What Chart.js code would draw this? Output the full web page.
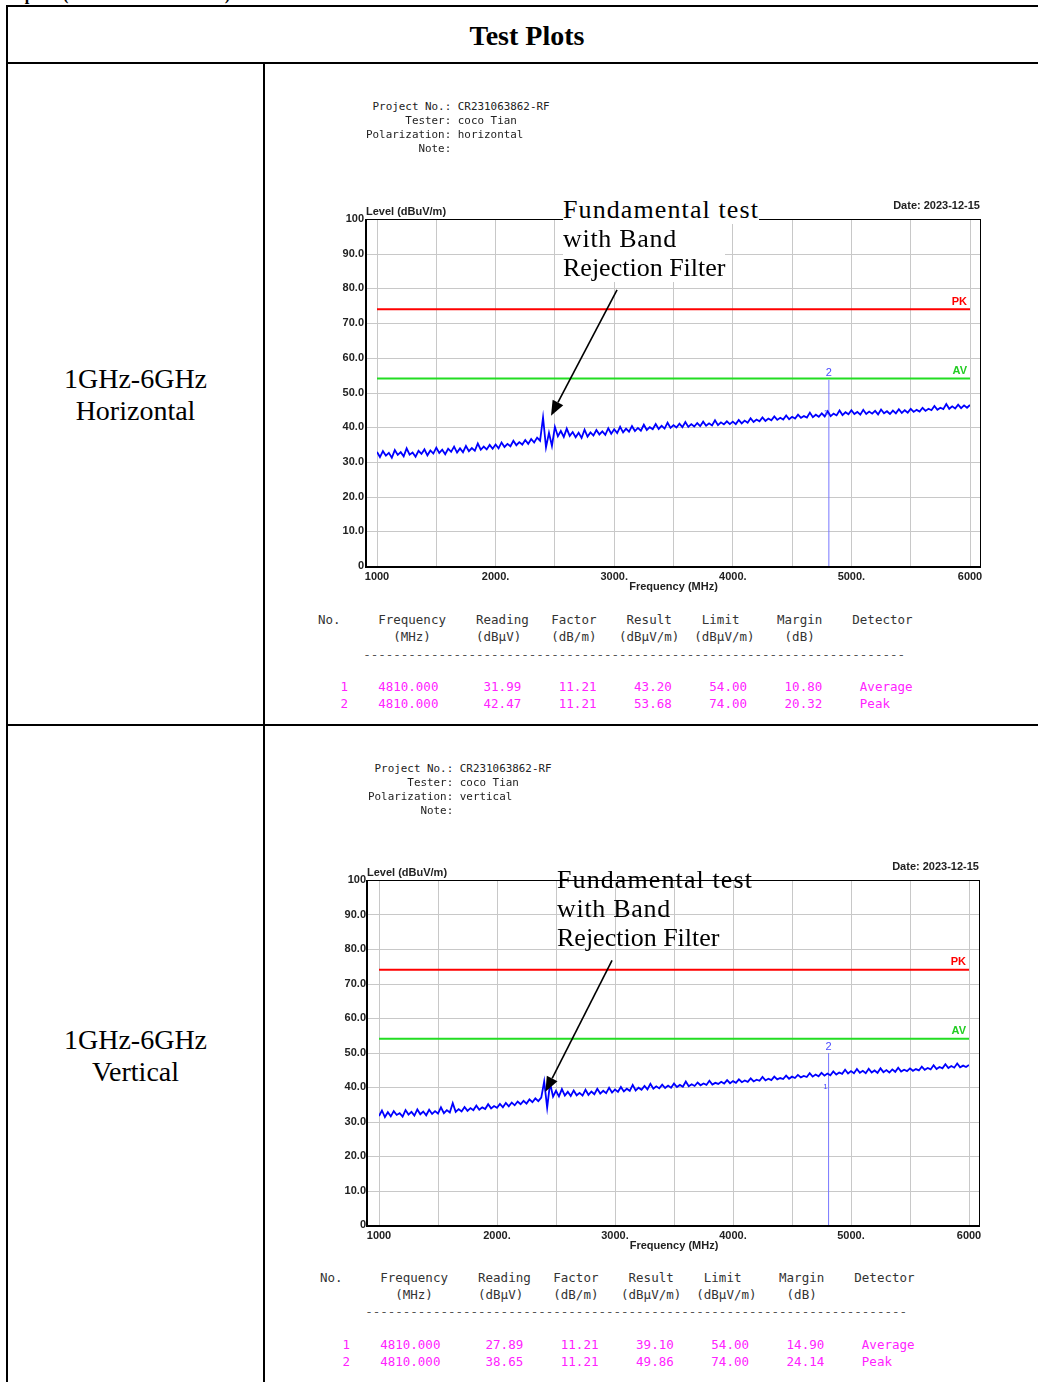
<!DOCTYPE html>
<html>
<head>
<meta charset="utf-8">
<script src="https://cdn.jsdelivr.net/npm/chart.js@4.4.0/dist/chart.umd.min.js"></script>
<style>
  body { margin: 0; width: 1038px; height: 1382px; overflow: hidden; position: relative; background: #fff; }
  .rule { position: absolute; background: #000; }
  .serif { position: absolute; font-family: "Liberation Serif", "Times New Roman", serif; color: #000; white-space: nowrap; }
  .mono { position: absolute; font-family: "DejaVu Sans Mono", monospace; white-space: pre; }
  .lbl { position: absolute; font-family: "Liberation Sans", Arial, sans-serif; font-weight: bold; font-size: 11px; line-height: 12px; color: #222; white-space: nowrap; }
  canvas { position: absolute; }
</style>
</head>
<body>
<div class="serif" style="left:-8px;top:-13px;font-size:16.5px;font-weight:bold;line-height:16px;">Test plots (Worst case was shown)</div>
<div class="rule" style="left:6px;top:5px;width:1040px;height:2px;"></div>
<div class="rule" style="left:6px;top:5px;width:2px;height:1400px;"></div>
<div class="rule" style="left:6px;top:62px;width:1040px;height:2px;"></div>
<div class="rule" style="left:263px;top:63px;width:2px;height:1400px;"></div>
<div class="rule" style="left:6px;top:724px;width:1040px;height:2px;"></div>
<div class="serif" style="left:7px;width:1040px;top:20px;text-align:center;font-size:28px;font-weight:bold;line-height:32px;">Test Plots</div>
<div class="serif" style="left:7px;width:257px;top:363px;text-align:center;font-size:28px;line-height:32px;">1GHz-6GHz<br>Horizontal</div>
<div class="serif" style="left:7px;width:257px;top:1024px;text-align:center;font-size:28px;line-height:32px;">1GHz-6GHz<br>Vertical</div>

<canvas id="chart-h" width="700" height="410" style="left:300px;top:195px;"></canvas>
<canvas id="chart-v" width="700" height="410" style="left:300px;top:855px;"></canvas>

<script>
// frequency points of the scan (MHz)
const FREQ_MHZ = [
  1000, 1025, 1050, 1075, 1100, 1125, 1150, 1175, 1200, 1225,
  1250, 1275, 1300, 1325, 1350, 1375, 1400, 1425, 1450, 1475,
  1500, 1525, 1550, 1575, 1600, 1625, 1650, 1675, 1700, 1725,
  1750, 1775, 1800, 1825, 1850, 1875, 1900, 1925, 1950, 1975,
  2000, 2025, 2050, 2075, 2100, 2125, 2150, 2175, 2200, 2225,
  2250, 2275, 2300, 2325, 2350, 2375, 2400, 2425, 2450, 2475,
  2500, 2525, 2550, 2575, 2600, 2625, 2650, 2675, 2700, 2725,
  2750, 2775, 2800, 2825, 2850, 2875, 2900, 2925, 2950, 2975,
  3000, 3025, 3050, 3075, 3100, 3125, 3150, 3175, 3200, 3225,
  3250, 3275, 3300, 3325, 3350, 3375, 3400, 3425, 3450, 3475,
  3500, 3525, 3550, 3575, 3600, 3625, 3650, 3675, 3700, 3725,
  3750, 3775, 3800, 3825, 3850, 3875, 3900, 3925, 3950, 3975,
  4000, 4025, 4050, 4075, 4100, 4125, 4150, 4175, 4200, 4225,
  4250, 4275, 4300, 4325, 4350, 4375, 4400, 4425, 4450, 4475,
  4500, 4525, 4550, 4575, 4600, 4625, 4650, 4675, 4700, 4725,
  4750, 4775, 4800, 4825, 4850, 4875, 4900, 4925, 4950, 4975,
  5000, 5025, 5050, 5075, 5100, 5125, 5150, 5175, 5200, 5225,
  5250, 5275, 5300, 5325, 5350, 5375, 5400, 5425, 5450, 5475,
  5500, 5525, 5550, 5575, 5600, 5625, 5650, 5675, 5700, 5725,
  5750, 5775, 5800, 5825, 5850, 5875, 5900, 5925, 5950, 5975,
  6000
];

// horizontal polarization trace (dBuV/m)
const H_LEVEL = [
  32.9, 31.4, 33.1, 31.8, 32.6, 31.2, 33.4, 32.0, 32.8, 31.6,
  33.9, 32.1, 32.7, 31.5, 33.2, 32.3, 33.6, 31.9, 33.3, 32.4,
  34.1, 32.6, 33.5, 32.2, 33.8, 32.9, 34.4, 32.7, 33.9, 32.8,
  34.6, 33.1, 34.0, 33.2, 35.3, 33.5, 34.4, 33.6, 34.9, 33.8,
  35.0, 33.9, 35.6, 34.3, 35.2, 34.5, 36.1, 34.8, 35.7, 35.0,
  36.3, 35.2, 36.6, 35.6, 37.0, 36.1, 42.8, 34.2, 38.4, 34.6,
  40.1, 37.4, 38.9, 37.2, 39.6, 37.5, 38.6, 37.1, 38.4, 36.9,
  39.3, 37.3, 38.5, 37.6, 39.2, 37.9, 38.8, 37.8, 39.7, 38.1,
  39.4, 38.3, 40.1, 38.5, 39.6, 38.7, 40.3, 38.9, 39.8, 39.0,
  40.7, 39.2, 40.0, 39.4, 40.9, 39.5, 40.4, 39.6, 41.3, 39.8,
  40.6, 39.9, 41.0, 40.0, 41.5, 40.1, 40.9, 40.2, 41.2, 40.3,
  41.6, 40.4, 41.1, 40.5, 42.0, 40.6, 41.4, 40.8, 41.7, 40.9,
  41.6, 40.9, 42.1, 41.1, 41.9, 41.3, 42.6, 41.5, 42.2, 41.7,
  42.8, 41.8, 42.5, 42.0, 43.1, 42.1, 42.7, 42.2, 43.4, 42.3,
  43.0, 42.5, 43.6, 42.7, 43.2, 42.8, 44.2, 42.9, 43.6, 43.0,
  44.0, 43.1, 44.6, 43.2, 43.9, 43.4, 44.8, 43.5, 44.3, 43.7,
  44.9, 43.8, 44.4, 43.6, 45.0, 43.8, 44.5, 43.9, 44.7, 43.7,
  45.1, 44.0, 44.6, 43.8, 44.8, 44.0, 45.2, 44.1, 44.9, 44.2,
  45.3, 44.4, 45.0, 44.5, 45.6, 44.7, 45.3, 44.9, 46.1, 45.0,
  45.6, 45.2, 46.7, 45.3, 46.0, 45.4, 46.5, 45.5, 46.3, 45.6,
  46.4
];

// vertical polarization trace (dBuV/m)
const V_LEVEL = [
  31.6, 33.2, 31.3, 32.7, 31.5, 33.0, 31.9, 32.4, 31.4, 33.3,
  32.0, 32.8, 31.7, 33.5, 32.1, 32.9, 31.8, 33.4, 32.2, 33.0,
  32.3, 34.1, 32.4, 33.3, 32.6, 35.3, 32.8, 33.6, 32.9, 34.2,
  33.1, 33.9, 33.3, 34.6, 33.4, 34.1, 33.6, 35.0, 33.8, 34.5,
  34.0, 35.1, 34.1, 35.4, 34.4, 35.5, 34.7, 35.8, 35.0, 36.0,
  35.2, 36.4, 35.6, 36.7, 35.9, 36.9, 41.6, 34.0, 41.1, 37.2,
  38.9, 37.3, 39.4, 37.5, 38.6, 37.4, 39.0, 37.6, 38.3, 37.5,
  39.2, 37.7, 38.7, 37.9, 39.5, 38.1, 38.9, 38.2, 39.8, 38.4,
  39.3, 38.6, 40.0, 38.7, 39.5, 38.9, 40.6, 39.0, 39.8, 39.2,
  40.3, 39.3, 40.9, 39.5, 40.2, 39.6, 40.7, 39.7, 40.4, 39.8,
  41.0, 40.0, 40.6, 40.1, 41.6, 40.2, 40.8, 40.3, 41.3, 40.5,
  41.0, 40.6, 41.8, 40.7, 41.2, 40.9, 41.5, 41.0, 42.0, 41.1,
  41.7, 41.2, 42.2, 41.4, 41.9, 41.5, 42.5, 41.6, 42.1, 41.8,
  42.9, 41.9, 42.4, 42.0, 43.0, 42.2, 42.6, 42.3, 43.3, 42.4,
  43.0, 42.6, 43.5, 42.8, 43.2, 42.9, 44.0, 43.0, 43.6, 43.1,
  44.1, 43.3, 43.9, 43.4, 44.5, 43.6, 44.2, 43.8, 45.0, 43.9,
  44.6, 44.0, 45.2, 44.1, 44.7, 44.0, 45.3, 44.2, 44.8, 44.1,
  45.4, 44.3, 44.9, 44.2, 45.1, 44.4, 45.6, 44.5, 45.0, 44.6,
  45.4, 44.7, 45.2, 44.8, 45.9, 45.0, 45.5, 45.1, 46.3, 45.2,
  45.8, 45.4, 46.6, 45.5, 46.1, 45.6, 46.8, 45.7, 46.2, 45.8,
  46.4
];

const X_TICKS = [1000, 2000, 3000, 4000, 5000, 6000];
const X_TICK_TEXT = ["1000", "2000.", "3000.", "4000.", "5000.", "6000"];
const Y_TICKS = [0, 10, 20, 30, 40, 50, 60, 70, 80, 90, 100];
const Y_TICK_TEXT = ["0", "10.0", "20.0", "30.0", "40.0", "50.0", "60.0", "70.0", "80.0", "90.0", "100"];

const PK_LIMIT = 74;
const AV_LIMIT = 54;
const MARKER_FREQ = 4810;

// marker table
const ROW_NO = [1, 2];
const ROW_FREQ = [4810.0, 4810.0];
const FACTOR = [11.21, 11.21];
const LIMIT = [54.0, 74.0];
const DETECTOR = ["Average", "Peak"];
const H_READING = [31.99, 42.47];
const H_RESULT = [43.2, 53.68];
const H_MARGIN = [10.8, 20.32];
const V_READING = [27.89, 38.65];
const V_RESULT = [39.1, 49.86];
const V_MARGIN = [14.9, 24.14];

const PROJECT = "CR231063862-RF";
const TESTER = "coco Tian";
const TEST_DATE = "2023-12-15";
const NOTE_LINES = ["Fundamental test", "with Band", "Rejection Filter"];

const TICK_FONT = { family: "'Liberation Sans', Arial, sans-serif", size: 11, weight: "bold" };

const markPlugin = {
  id: "marks",
  beforeDatasetsDraw(chart, args, o) {
    const { ctx, chartArea: a, scales: { y } } = chart;
    ctx.save();
    ctx.strokeStyle = "#c8c8c8";
    ctx.lineWidth = 1;
    Y_TICKS.slice(1, -1).forEach((v) => {
      const py = Math.round(y.getPixelForValue(v)) + 0.5;
      ctx.beginPath();
      ctx.moveTo(a.left - o.frameL, py);
      ctx.lineTo(a.right + o.frameR, py);
      ctx.stroke();
    });
    ctx.restore();
  },
  afterDatasetsDraw(chart, args, o) {
    const { ctx, chartArea: a, scales: { x, y } } = chart;
    ctx.save();
    ctx.font = "bold 11px 'Liberation Sans', Arial, sans-serif";
    ctx.textAlign = "right";
    ctx.textBaseline = "bottom";
    ctx.fillStyle = "#ff0000";
    ctx.fillText("PK", a.right - 3, y.getPixelForValue(PK_LIMIT) - 2);
    ctx.fillStyle = "#22cc22";
    ctx.fillText("AV", a.right - 3, y.getPixelForValue(AV_LIMIT) - 2);

    // marker numbers
    const mx = x.getPixelForValue(MARKER_FREQ);
    ctx.font = "11px 'Liberation Sans', Arial, sans-serif";
    ctx.textAlign = "center";
    ctx.fillStyle = "#4a4aff";
    ctx.fillText("2", mx, y.getPixelForValue(o.results[1]) - 1);
    ctx.font = "8px 'Liberation Sans', Arial, sans-serif";
    ctx.fillText("1", mx - 3, y.getPixelForValue(o.results[0]) + 1);

    // arrow of the note
    const [tail, tip] = o.arrow;
    const x0 = x.getPixelForValue(tail[0]), y0 = y.getPixelForValue(tail[1]);
    const x1 = x.getPixelForValue(tip[0]), y1 = y.getPixelForValue(tip[1]);
    const ang = Math.atan2(y1 - y0, x1 - x0);
    const len = 15, half = 6;
    const bx = x1 - len * Math.cos(ang), by = y1 - len * Math.sin(ang);
    ctx.strokeStyle = "#000";
    ctx.fillStyle = "#000";
    ctx.lineWidth = 1.6;
    ctx.beginPath();
    ctx.moveTo(x0, y0);
    ctx.lineTo(bx, by);
    ctx.stroke();
    ctx.beginPath();
    ctx.moveTo(x1, y1);
    ctx.lineTo(bx + half * Math.sin(ang), by - half * Math.cos(ang));
    ctx.lineTo(bx - half * Math.sin(ang), by + half * Math.cos(ang));
    ctx.closePath();
    ctx.fill();
    ctx.restore();
  },
  afterDraw(chart, args, o) {
    const { ctx, chartArea: a } = chart;
    const l = a.left - o.frameL, r = a.right + o.frameR;
    ctx.save();
    ctx.fillStyle = "#000";
    ctx.fillRect(l, a.top, r - l, 1);
    ctx.fillRect(r, a.top, 1, a.bottom - a.top + 1);
    ctx.fillRect(l - 1, a.top, 2, a.bottom - a.top + 2);
    ctx.fillRect(l - 1, a.bottom, r - l + 2, 2);
    ctx.font = "bold 11px 'Liberation Sans', Arial, sans-serif";
    ctx.fillStyle = "#222";
    ctx.textAlign = "center";
    ctx.textBaseline = "middle";
    ctx.fillText("Frequency (MHz)", (a.left + a.right) / 2, a.bottom + 21);
    ctx.restore();
  },
};

function makeScan(cfg) {
  const canvas = document.getElementById(cfg.canvas);
  const cLeft = parseFloat(canvas.style.left), cTop = parseFloat(canvas.style.top);
  const padTop = cfg.areaTop - cTop;
  const padRight = cLeft + canvas.width - cfg.areaRight;
  const yWidth = cfg.areaLeft - cLeft;
  const xHeight = canvas.height - (cfg.areaBottom - cTop);

  return new Chart(canvas, {
    type: "line",
    data: {
      datasets: [
        {
          data: FREQ_MHZ.map((f, i) => ({ x: f, y: cfg.level[i] })),
          borderColor: "#0000ff",
          borderWidth: 1.8,
          pointRadius: 0,
          tension: 0,
        },
        {
          data: [{ x: MARKER_FREQ, y: 0 }, { x: MARKER_FREQ, y: cfg.results[1] }],
          borderColor: "#7878ff",
          borderWidth: 1,
          pointRadius: 0,
        },
        {
          data: [{ x: 1000, y: PK_LIMIT }, { x: 6000, y: PK_LIMIT }],
          borderColor: "#ff0000",
          borderWidth: 2,
          pointRadius: 0,
        },
        {
          data: [{ x: 1000, y: AV_LIMIT }, { x: 6000, y: AV_LIMIT }],
          borderColor: "#22dd22",
          borderWidth: 2,
          pointRadius: 0,
        },
      ],
    },
    options: {
      responsive: false,
      animation: false,
      devicePixelRatio: 1,
      layout: { padding: { top: padTop, right: padRight, left: 0, bottom: 0 } },
      plugins: {
        legend: { display: false },
        tooltip: { enabled: false },
        marks: { frameL: cfg.frameL, frameR: cfg.frameR, results: cfg.results, arrow: cfg.arrow },
      },
      scales: {
        x: {
          type: "linear",
          min: 1000,
          max: 6000,
          afterFit: (s) => { s.height = xHeight; },
          border: { display: false },
          grid: { color: "#c8c8c8", lineWidth: 1, drawTicks: false },
          ticks: {
            stepSize: 500,
            autoSkip: false,
            maxRotation: 0,
            padding: 4,
            color: "#222",
            font: TICK_FONT,
            callback: (v) => {
              const i = X_TICKS.indexOf(v);
              return i >= 0 ? X_TICK_TEXT[i] : "";
            },
          },
        },
        y: {
          min: 0,
          max: 100,
          afterFit: (s) => { s.width = yWidth; },
          border: { display: false },
          grid: { display: false },
          ticks: {
            stepSize: 10,
            padding: 5,
            color: "#222",
            font: TICK_FONT,
            callback: (v) => Y_TICK_TEXT[Y_TICKS.indexOf(v)],
          },
        },
      },
    },
    plugins: [markPlugin],
  });
}

function placeCols(parts) {
  let s = "";
  parts.forEach(([c, t]) => {
    s = s.padEnd(c, " ") + t;
  });
  return s;
}

function addText(cls, left, top, text, style) {
  const d = document.createElement("div");
  d.className = cls;
  d.style.left = left + "px";
  d.style.top = top + "px";
  Object.assign(d.style, style || {});
  d.textContent = text;
  document.body.appendChild(d);
  return d;
}

function makeBlock(b) {
  // header block
  const head = [
    " Project No.: " + PROJECT,
    "      Tester: " + TESTER,
    "Polarization: " + b.polarization,
    "        Note:",
  ];
  head.forEach((t, i) => addText("mono", b.headLeft, b.headTop + i * 14, t,
    { fontSize: "10.9px", lineHeight: "14px", color: "#222" }));

  addText("lbl", b.levelLeft, b.levelTop, "Level (dBuV/m)");
  const dt = addText("lbl", 0, b.dateTop, "Date: " + TEST_DATE);
  dt.style.left = "auto";
  dt.style.right = (1038 - b.dateRight) + "px";

  // marker table
  const tStyle = { fontSize: "12.5px", lineHeight: "16px" };
  const head1 = placeCols([[0, "No."], [8, "Frequency"], [21, "Reading"], [31, "Factor"],
    [41, "Result"], [51, "Limit"], [61, "Margin"], [71, "Detector"]]);
  const head2 = placeCols([[10, "(MHz)"], [21, "(dBµV)"], [31, "(dB/m)"], [40, "(dBµV/m)"],
    [50, "(dBµV/m)"], [62, "(dB)"]]);
  addText("mono", b.tableLeft, b.rowTops[0], head1, Object.assign({ color: "#333" }, tStyle));
  addText("mono", b.tableLeft, b.rowTops[1], head2, Object.assign({ color: "#333" }, tStyle));
  addText("mono", b.tableLeft, b.rowTops[2], placeCols([[6, "-".repeat(72)]]), Object.assign({ color: "#555" }, tStyle));
  ROW_NO.forEach((n, i) => {
    const line = placeCols([[3, String(n)], [8, ROW_FREQ[i].toFixed(3)], [22, b.reading[i].toFixed(2)],
      [32, FACTOR[i].toFixed(2)], [42, b.result[i].toFixed(2)], [52, LIMIT[i].toFixed(2)],
      [62, b.margin[i].toFixed(2)], [72, DETECTOR[i]]]);
    addText("mono", b.tableLeft, b.rowTops[3 + i], line, Object.assign({ color: "#ff22ff" }, tStyle));
  });

  // note added over the plot
  const spacing = ["1.1px", "0.7px", "0px"];
  NOTE_LINES.forEach((t, i) => {
    addText("serif", b.noteLeft, b.noteTop + i * 29, t, {
      fontSize: "26px", lineHeight: "29px", letterSpacing: spacing[i], background: b.noteBg,
    });
  });
}

makeScan({
  canvas: "chart-h", areaLeft: 377, areaRight: 970, areaTop: 219, areaBottom: 566,
  frameL: 11, frameR: 10, level: H_LEVEL, results: H_RESULT,
  arrow: [[3024, 79.6], [2467, 43.3]],
});
makeScan({
  canvas: "chart-v", areaLeft: 379, areaRight: 969, areaTop: 880, areaBottom: 1225,
  frameL: 12, frameR: 10, level: V_LEVEL, results: V_RESULT,
  arrow: [[2975, 76.7], [2410, 38.6]],
});

makeBlock({
  polarization: "horizontal", headLeft: 366, headTop: 100,
  levelLeft: 366, levelTop: 205, dateRight: 980, dateTop: 199,
  tableLeft: 318, rowTops: [612, 629, 647, 679, 696],
  reading: H_READING, result: H_RESULT, margin: H_MARGIN,
  noteLeft: 563, noteTop: 195, noteBg: "#fff",
});
makeBlock({
  polarization: "vertical", headLeft: 368, headTop: 762,
  levelLeft: 367, levelTop: 866, dateRight: 979, dateTop: 860,
  tableLeft: 320, rowTops: [1270, 1287, 1304, 1337, 1354],
  reading: V_READING, result: V_RESULT, margin: V_MARGIN,
  noteLeft: 557, noteTop: 865, noteBg: "transparent",
});
</script>
</body>
</html>
